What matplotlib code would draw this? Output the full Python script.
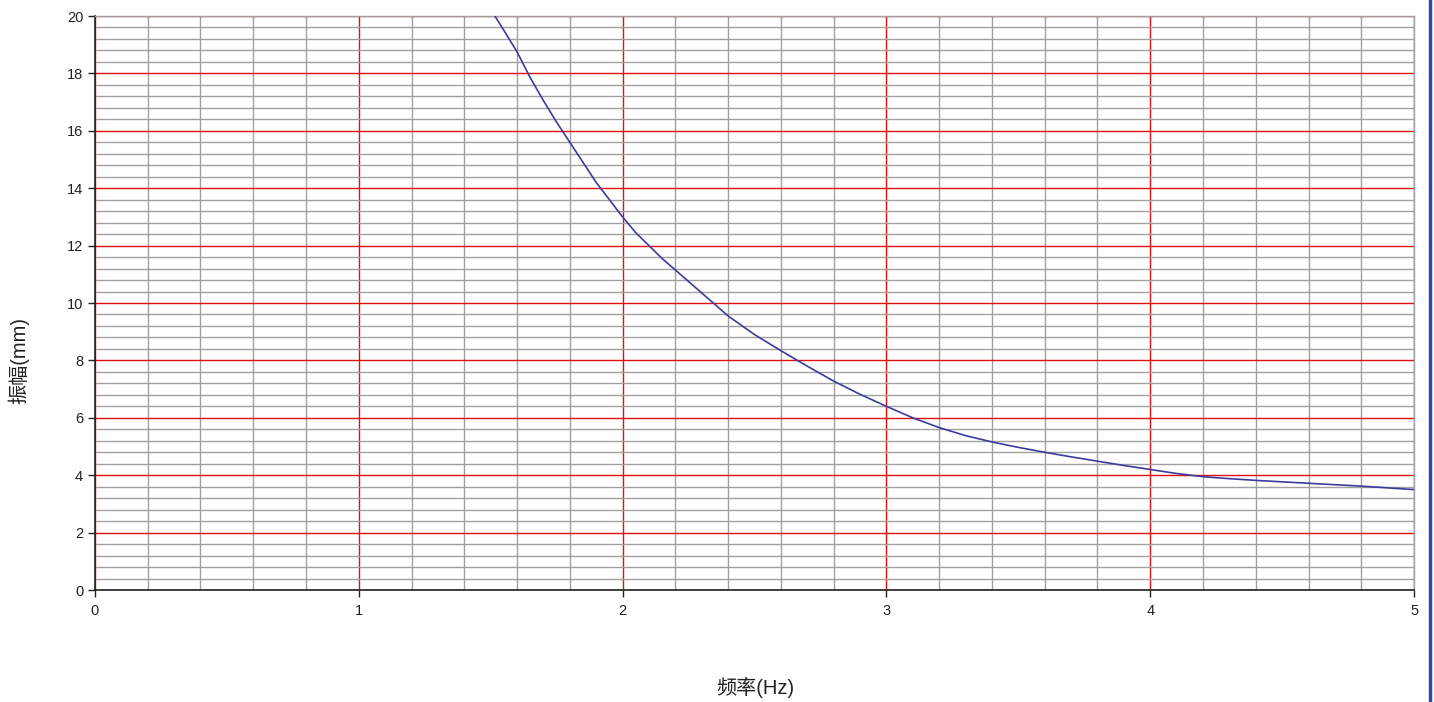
import matplotlib
matplotlib.use("Agg")
import matplotlib.pyplot as plt
from matplotlib.ticker import MultipleLocator
from matplotlib.lines import Line2D

freq = [1.516, 1.55, 1.6, 1.65, 1.7, 1.75, 1.8, 1.85, 1.9, 1.95, 2.0, 2.05, 2.1, 2.15, 2.2,
        2.25, 2.3, 2.35, 2.4, 2.5, 2.6, 2.7, 2.8, 2.9, 3.0, 3.1, 3.2, 3.3, 3.4, 3.5, 3.6,
        3.7, 3.8, 3.9, 4.0, 4.1, 4.2, 4.3, 4.4, 4.5, 4.6, 4.7, 4.8, 4.9, 5.0]
amp = [20.0, 19.5, 18.75, 17.85, 17.05, 16.3, 15.6, 14.9, 14.2, 13.6, 13.0, 12.45, 12.0, 11.55, 11.15,
       10.75, 10.35, 9.95, 9.55, 8.9, 8.34, 7.8, 7.28, 6.82, 6.4, 6.0, 5.66, 5.38, 5.16, 4.97, 4.8,
       4.64, 4.49, 4.34, 4.2, 4.06, 3.95, 3.88, 3.82, 3.77, 3.72, 3.67, 3.62, 3.56, 3.5]

x_label = "频率(Hz)"
y_label = "振幅(mm)"

fams = ['Liberation Sans', 'Noto Sans CJK SC', 'DejaVu Sans']
plt.rcParams['font.family'] = fams

fig = plt.figure(figsize=(14.34, 7.02), dpi=100)
ax = fig.add_axes([0.0662, 0.1595, 0.9199, 0.8177])

ax.set_xlim(0, 5)
ax.set_ylim(0, 20)
ax.xaxis.set_major_locator(MultipleLocator(1))
ax.xaxis.set_minor_locator(MultipleLocator(0.2))
ax.yaxis.set_major_locator(MultipleLocator(2))
ax.yaxis.set_minor_locator(MultipleLocator(0.4))

ax.grid(which='minor', color='#a0a0a0', linewidth=1.0, zorder=0)
ax.grid(which='major', axis='both', color='#e01010', linewidth=1.0, zorder=1)
ax.set_axisbelow(True)

ax.plot(freq, amp, color='#3b3b9c', linewidth=1.2, zorder=3)

for s in ['top', 'right']:
    ax.spines[s].set_color('#a0a0a0')
    ax.spines[s].set_linewidth(1.0)
for s in ['left', 'bottom']:
    ax.spines[s].set_color('#222222')
    ax.spines[s].set_linewidth(1.2)

ax.tick_params(which='major', direction='out', length=5, width=1, color='#222222',
               labelsize=10.5, labelcolor='#222222')
ax.tick_params(which='minor', length=0)
ax.tick_params(axis='x', pad=5)

fig.text(0.527, 0.02, x_label, ha='center', va='center', fontsize=14.5, color='#222222')
fig.text(0.013, 0.487, y_label, ha='center', va='center', rotation=90, fontsize=14.5, color='#222222')

fig.add_artist(Line2D([0.9975, 0.9975], [0.0, 1.0], color='#2a4aa8', linewidth=2.5,
                      transform=fig.transFigure))

fig.savefig('out.png', dpi=100)
